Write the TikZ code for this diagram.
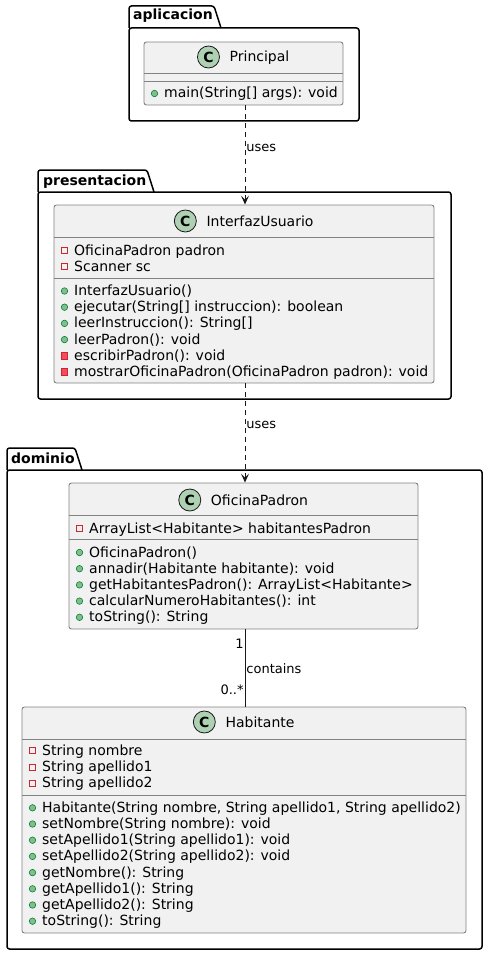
\documentclass[tikz,border=0pt]{standalone}
\usepackage{fontspec}
\setmainfont{DejaVu Sans}
\usetikzlibrary{calc,arrows.meta}
\definecolor{clsfill}{HTML}{F1F1F1}
\definecolor{clsline}{HTML}{181818}
\definecolor{clsborder}{HTML}{828282}
\definecolor{cfill}{HTML}{ADD1B2}
\definecolor{privline}{HTML}{C82930}
\definecolor{privfill}{HTML}{F24D5C}
\definecolor{pubfill}{HTML}{84BE84}
\definecolor{publine}{HTML}{038048}
\newcounter{rowc}
\tikzset{
  pkg/.style={draw=black, line width=1.5pt, rounded corners=2.5pt},
  pkglabel/.style={anchor=base west, inner sep=0pt, font=\fontsize{14}{16}\selectfont\bfseries},
  clsbox/.style={draw=clsborder, fill=clsfill, line width=0.9pt, rounded corners=2.5pt, inner sep=0pt},
  sepline/.style={draw=clsborder, line width=0.9pt},
  clsname/.style={anchor=base, inner sep=0pt, font=\fontsize{14}{16}\selectfont},
  cicon/.style={circle, draw=clsline, line width=0.8pt, fill=cfill, minimum size=22pt, inner sep=0pt, font=\fontsize{14}{16}\selectfont\bfseries},
  rowtext/.style={anchor=base west, inner sep=0pt, font=\fontsize{14}{16}\selectfont},
  iconpf/.style={rectangle, draw=privline, line width=0.8pt, minimum size=6pt, inner sep=0pt},
  iconpm/.style={rectangle, draw=privline, fill=privfill, line width=0.6pt, minimum size=6.5pt, inner sep=0pt},
  iconpub/.style={circle, draw=publine, fill=pubfill, line width=0.6pt, minimum size=6.5pt, inner sep=0pt},
  uses/.style={draw=clsline, line width=0.9pt, dash pattern=on 5pt off 4pt, -{Stealth[length=9pt, width=8pt, inset=4pt]}},
  assoc/.style={draw=clsline, line width=0.9pt},
  elabel/.style={inner sep=1pt, font=\fontsize{13}{15}\selectfont},
}
\newcommand{\mrow}[4]{%
  \stepcounter{rowc}%
  \node[icon#3] (i\arabic{rowc}) at (#1+10.5, #2+0.5) {};
  \node[rowtext] (r\arabic{rowc}) at (#1+20, #2+5) {#4};
}
\begin{document}
\begin{tikzpicture}[x=1pt, y=-1pt]
\path[use as bounding box] (0,0) rectangle (488,955);

% ---------- packages ----------
% aplicacion
\draw[pkg] (129,28) -- (129,6) -- (214,6) -- (221,28);
\draw[pkg] (129,28) rectangle (359,121);
\node[pkglabel] (lapl) at (133,20) {aplicacion};
% presentacion
\draw[pkg] (38,192) -- (38,170) -- (147,170) -- (154,192);
\draw[pkg] (38,192) rectangle (451,399);
\node[pkglabel] (lpre) at (43,185) {presentacion};
% dominio
\draw[pkg] (7,470) -- (7,448) -- (75,448) -- (82,470);
\draw[pkg] (7,470) rectangle (482,949);
\node[pkglabel] (ldom) at (11,463) {dominio};

% ---------- Principal ----------
\node[clsbox, minimum width=199pt, minimum height=63pt] (principal) at (243.5,73.5) {};
\draw[sepline] (144,73) -- (343,73);
\draw[sepline] (144,81) -- (343,81);
\node[clsname] (nprincipal) at (243.5+16,57+5) {Principal};
\node[cicon] (cprincipal) at ($(nprincipal.base west)+(-21,-5)$) {C};
\mrow{144}{93}{pub}{main(String[] args): void}

% ---------- InterfazUsuario ----------
\node[clsbox, minimum width=380pt, minimum height=178pt] (interfaz) at (244,294) {};
\draw[sepline] (54,237) -- (434,237);
\draw[sepline] (54,278) -- (434,278);
\node[clsname] (ninterfaz) at (244+16,221+5) {InterfazUsuario};
\node[cicon] (cinterfaz) at ($(ninterfaz.base west)+(-21,-5)$) {C};
\mrow{54}{250}{pf}{OficinaPadron padron}
\mrow{54}{266.2}{pf}{Scanner sc}
\mrow{54}{290.5}{pub}{InterfazUsuario()}
\mrow{54}{306.7}{pub}{ejecutar(String[] instruccion): boolean}
\mrow{54}{322.9}{pub}{leerInstruccion(): String[]}
\mrow{54}{339.1}{pub}{leerPadron(): void}
\mrow{54}{355.3}{pm}{escribirPadron(): void}
\mrow{54}{371.5}{pm}{mostrarOficinaPadron(OficinaPadron padron): void}

% ---------- OficinaPadron ----------
\node[clsbox, minimum width=349pt, minimum height=146pt] (oficina) at (243.5,556) {};
\draw[sepline] (69,515) -- (418,515);
\draw[sepline] (69,539) -- (418,539);
\node[clsname] (noficina) at (243.5+16,500+5) {OficinaPadron};
\node[cicon] (coficina) at ($(noficina.base west)+(-21,-5)$) {C};
\mrow{69}{528}{pf}{ArrayList<Habitante> habitantesPadron}
\mrow{69}{552}{pub}{OficinaPadron()}
\mrow{69}{568.2}{pub}{annadir(Habitante habitante): void}
\mrow{69}{584.4}{pub}{getHabitantesPadron(): ArrayList<Habitante>}
\mrow{69}{600.6}{pub}{calcularNumeroHabitantes(): int}
\mrow{69}{616.8}{pub}{toString(): String}

% ---------- Habitante ----------
\node[clsbox, minimum width=444pt, minimum height=226pt] (habitante) at (244,820) {};
\draw[sepline] (22,739) -- (466,739);
\draw[sepline] (22,795) -- (466,795);
\node[clsname] (nhabitante) at (244+16,722+5) {Habitante};
\node[cicon] (chabitante) at ($(nhabitante.base west)+(-21,-5)$) {C};
\mrow{22}{750.3}{pf}{String nombre}
\mrow{22}{766.5}{pf}{String apellido1}
\mrow{22}{782.7}{pf}{String apellido2}
\mrow{22}{807.3}{pub}{Habitante(String nombre, String apellido1, String apellido2)}
\mrow{22}{823.5}{pub}{setNombre(String nombre): void}
\mrow{22}{839.7}{pub}{setApellido1(String apellido1): void}
\mrow{22}{855.9}{pub}{setApellido2(String apellido2): void}
\mrow{22}{872.1}{pub}{getNombre(): String}
\mrow{22}{888.3}{pub}{getApellido1(): String}
\mrow{22}{904.5}{pub}{getApellido2(): String}
\mrow{22}{920.7}{pub}{toString(): String}

% ---------- connectors ----------
\draw[uses] ([xshift=1.5pt]principal.south) -- ([xshift=1.5pt]principal.south |- interfaz.north)
  node[elabel, pos=0.43, anchor=west] (luses1) {uses};
\draw[uses] ([xshift=1pt]interfaz.south) -- ([xshift=1pt]interfaz.south |- oficina.north)
  node[elabel, pos=0.42, anchor=west] (luses2) {uses};
\draw[assoc] ([xshift=1.5pt]oficina.south) -- ([xshift=1.5pt]oficina.south |- habitante.north)
  node[elabel, pos=0.51, anchor=west] (lcont) {contains}
  node[elabel, pos=0.19, anchor=east] (lone) {1}
  node[elabel, pos=0.78, anchor=east] (lmany) {0..*};
\end{tikzpicture}
\end{document}
